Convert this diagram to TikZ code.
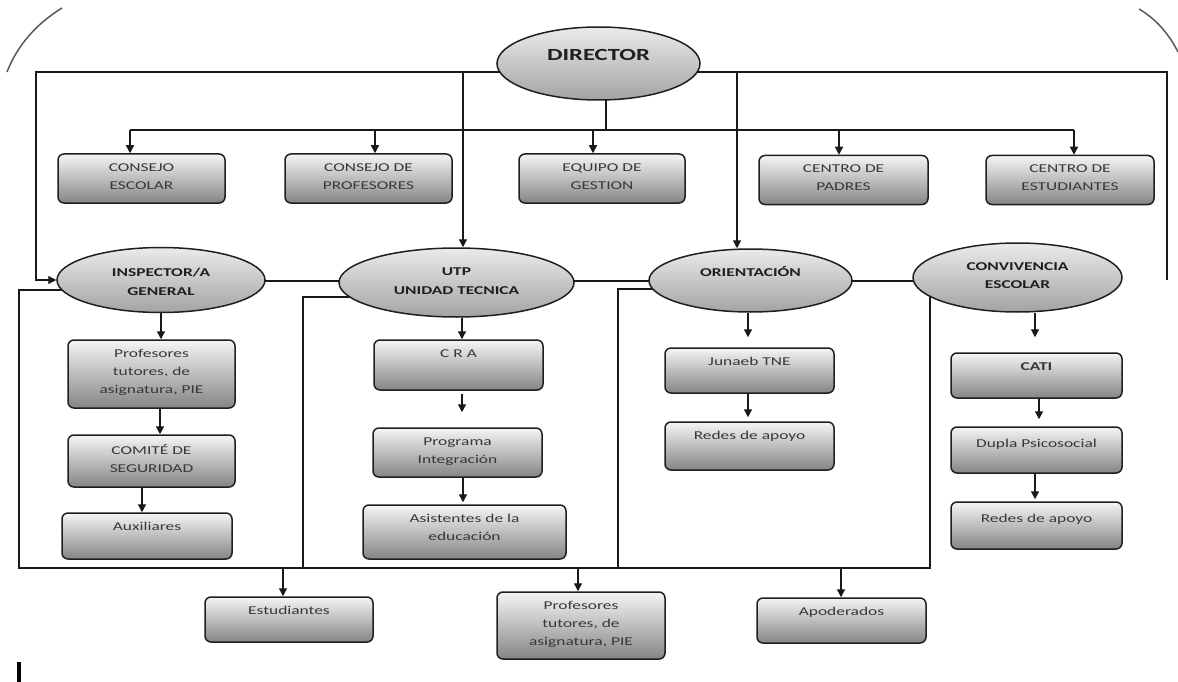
\documentclass[tikz,border=0pt]{standalone}
\usepackage{fontspec}
\setmainfont{Carlito}[FakeStretch=1.45]
\usetikzlibrary{shapes.geometric,arrows.meta}
\pgfdeclarelayer{background}
\pgfsetlayers{background,main}
\tikzset{
  box/.style={draw=black!88, line width=1.5pt, rounded corners=6pt, top color=black!4, bottom color=black!48, inner sep=0pt},
  oval/.style={ellipse, draw=black!88, line width=1.5pt, top color=black!8, bottom color=black!36, inner sep=0pt},
  bt/.style={anchor=north, inner sep=0pt, align=center, font=\fontsize{12}{18}\selectfont, text=black!78},
  et/.style={inner sep=0pt, align=center, font=\bfseries\fontsize{12}{18.5}\selectfont, text=black!88},
  con/.style={line width=1.4pt, draw=black!90},
  arr/.style={con, -{Triangle[length=8pt,width=8pt]}},
  deco/.style={black!65, line width=1.5pt},
}
\newcommand\orgbox[7][10]{%
  \node[box, minimum width=#5pt, minimum height=#6pt] (#2) at (#3,#4) {};
  \node[bt] (#2t) at ([yshift=-#1pt]#2.north) {#7};}
\begin{document}
\begin{tikzpicture}[x=1pt,y=-1pt]
\useasboundingbox (0,0) rectangle (1178,682);
\begin{pgfonlayer}{background}
\fill[white] (0,0) rectangle (1178,682);
\end{pgfonlayer}

% ellipses
\node[oval, minimum width=203pt, minimum height=73pt] (dir) at (598.5,63.5) {};
\node[et, font=\bfseries\fontsize{17}{20}\selectfont] (dirt) at ([yshift=9]dir.center) {DIRECTOR};
\node[oval, minimum width=208pt, minimum height=65pt] (insp) at (161,280) {};
\node[et] (inspt) at ([yshift=-2]insp.center) {INSPECTOR/A\\GENERAL};
\node[oval, minimum width=235pt, minimum height=69pt] (utp) at (456.5,282.5) {};
\node[et] (utpt) at ([yshift=1.5]utp.center) {UTP\\UNIDAD TECNICA};
\node[oval, minimum width=203pt, minimum height=63pt] (ori) at (750.5,280.5) {};
\node[et, text height=8.5pt, text depth=0pt] (orit) at ([yshift=8.5]ori.center) {ORIENTACIÓN};
\node[oval, minimum width=209pt, minimum height=69pt] (conv) at (1017.5,277.5) {};
\node[et] (convt) at ([yshift=2]conv.center) {CONVIVENCIA\\ESCOLAR};

% top row
\orgbox{cs}{141.5}{178.5}{167}{49}{CONSEJO\\ESCOLAR}
\orgbox{cp}{368.5}{178.5}{167}{49}{CONSEJO DE\\PROFESORES}
\orgbox{eg}{602}{178.5}{166}{49}{EQUIPO DE\\GESTION}
\orgbox{cpa}{843.5}{180}{169}{49}{CENTRO DE\\PADRES}
\orgbox{ce}{1070}{180}{168}{49}{CENTRO DE\\ESTUDIANTES}

% inspector column
\orgbox{p1}{151.5}{374}{167}{68}{Profesores\\tutores, de\\asignatura, PIE}
\orgbox{cms}{151.5}{461}{167}{52}{COMITÉ DE\\SEGURIDAD}
\orgbox{aux}{147}{536}{170}{46}{Auxiliares}
% utp column
\orgbox{cra}{458.5}{365}{169}{50}{C R A}
\orgbox{prog}{457.5}{452.5}{169}{49}{Programa\\Integración}
\orgbox{asis}{464.5}{532}{203}{54}{Asistentes de la\\educación}
% orientacion column
\orgbox{jun}{749.5}{370.5}{169}{45}{Junaeb TNE}
\orgbox{red1}{749.5}{446}{169}{48}{Redes de apoyo}
% convivencia column
\orgbox{cati}{1036.5}{375.5}{171}{45}{\bfseries CATI}
\orgbox[13]{dup}{1036.5}{450}{171}{46}{Dupla Psicosocial}
\orgbox[13]{red2}{1036.5}{525.5}{171}{47}{Redes de apoyo}
% bottom row
\orgbox{est}{289}{619.5}{168}{45}{Estudiantes}
\orgbox{pro2}{581}{625.5}{168}{67}{Profesores\\tutores, de\\asignatura, PIE}
\orgbox{apo}{841.5}{620.5}{169}{45}{Apoderados}

% helper coordinates
\coordinate (lt) at (36,72);
\coordinate (rt) at (1167,72);
\coordinate (rb) at (1167,280);
\coordinate (bus) at (606,130);
\coordinate (lk) at (0,281);
\coordinate (bl) at (19,568);
\coordinate (br) at (930,568);
\coordinate (il) at (19,290);
\coordinate (ul) at (303,297);
\coordinate (ol) at (618,289);

\begin{pgfonlayer}{background}
\draw[arr] (dir.center |- lt) -- (lt) -- (lt |- insp.west) -- (insp.west);
\draw[con] (dir.center |- rt) -- (rt) -- (rb);
\draw[arr] ([xshift=6.5]utp.north |- lt) -- ([xshift=6.5]utp.north);
\draw[arr] ([xshift=-13.5]ori.north |- rt) -- ([xshift=-13.5]ori.north);
% bus to top row
\draw[con] ([xshift=7.5]dir.center) -- (bus);
\draw[con] ([xshift=-11.5]cs.north |- bus) -- ([xshift=4]ce.north |- bus);
\draw[arr] ([xshift=-11.5]cs.north |- bus) -- ([xshift=-11.5]cs.north);
\draw[arr] ([xshift=6.5]cp.north |- bus) -- ([xshift=6.5]cp.north);
\draw[arr] ([xshift=-9]eg.north |- bus) -- ([xshift=-9]eg.north);
\draw[arr] ([xshift=-4.5]cpa.north |- bus) -- ([xshift=-4.5]cpa.north);
\draw[arr] ([xshift=4]ce.north |- bus) -- ([xshift=4]ce.north);
% link between ellipses
\draw[con] (insp.center |- lk) -- (conv.center |- lk);
% lower frame
\draw[con] (insp.center |- il) -- (il) -- (bl) -- (br) -- (br |- conv.center);
\draw[con] (utp.center |- ul) -- (ul) -- (ul |- bl);
\draw[con] (ori.center |- ol) -- (ol) -- (ol |- bl);
% bottom arrows
\draw[arr] ([xshift=-6]est.north |- bl) -- ([xshift=-6]est.north);
\draw[arr] ([xshift=-3]pro2.north |- bl) -- ([xshift=-3]pro2.north);
\draw[arr] ([xshift=-0.5]apo.north |- bl) -- ([xshift=-0.5]apo.north);
% column arrows
\draw[arr] (insp.south) -- (insp.south |- p1.north);
\draw[arr] ([xshift=8.5]p1.south) -- ([xshift=8.5]cms.north);
\draw[arr] ([xshift=-9.5]cms.south) -- ([xshift=-5]aux.north);
\draw[arr] ([xshift=5.5]utp.south) -- ([xshift=5.5]utp.south |- cra.north);
\draw[arr, shorten <=3pt, shorten >=15pt] ([xshift=3.5]cra.south) -- ([xshift=3.5]cra.south |- prog.north);
\draw[arr, shorten >=2pt] ([xshift=5.5]prog.south) -- ([xshift=5.5]prog.south |- asis.north);
\draw[arr, shorten >=10pt] ([xshift=-2.5]ori.south) -- ([xshift=-2.5]ori.south |- jun.north);
\draw[arr, shorten >=4pt] ([xshift=-1.5]jun.south) -- ([xshift=-1.5]jun.south |- red1.north);
\draw[arr, shorten >=15pt] ([xshift=17.5]conv.south) -- ([xshift=17.5]conv.south |- cati.north);
\draw[arr, shorten >=7pt] ([xshift=2.5]cati.south) -- ([xshift=2.5]cati.south |- dup.north);
\draw[arr, shorten >=2pt] ([xshift=-1.5]dup.south) -- ([xshift=-1.5]dup.south |- red2.north);
\end{pgfonlayer}

% decorative arcs and bar
\draw[deco] (7,72) .. controls (17,46) and (36,24) .. (62,8);
\draw[deco] (1139,9) .. controls (1156,19) and (1169,34) .. (1178,52);
\draw[line width=3.5pt] (19,662) -- (19,682);
\end{tikzpicture}
\end{document}
